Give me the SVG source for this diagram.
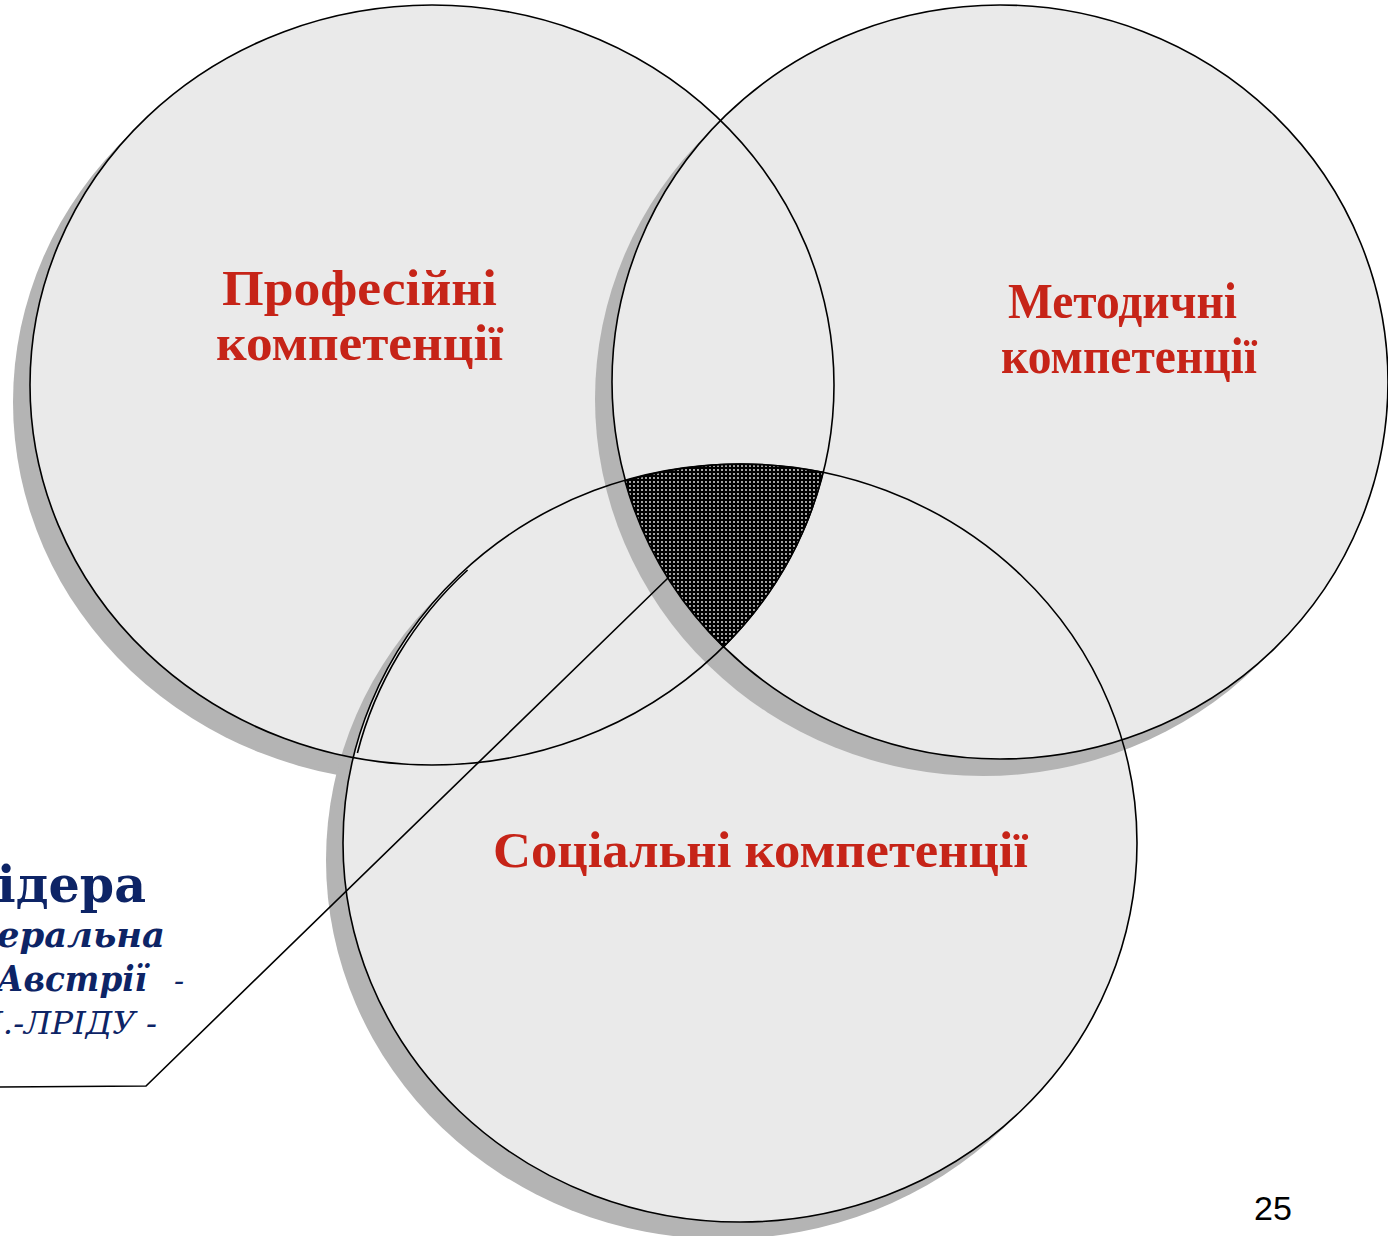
<svg xmlns="http://www.w3.org/2000/svg" width="1388" height="1236" viewBox="0 0 1388 1236">
<style>
.fill{fill:#eaeaea;stroke:none}
.shadow{fill:#b4b4b4;stroke:none}
.outline{fill:none;stroke:#000;stroke-width:1.6}
.red{font-family:"Liberation Serif","DejaVu Serif",serif;font-weight:bold;font-size:50px;fill:#c62418}
.navy{font-family:"DejaVu Serif","Liberation Serif",serif;fill:#0d2466}
.line{fill:none;stroke:#000;stroke-width:1.6}
</style>
<defs>
<pattern id="dots" width="4" height="4" patternUnits="userSpaceOnUse">
<rect width="4" height="4" fill="#000"/>
<circle cx="2" cy="2" r="0.9" fill="#f0f0f0"/>
</pattern>
</defs>
<rect width="1388" height="1236" fill="#fff"/>
<g id="node-professional-bg">
<ellipse class="shadow" cx="415" cy="402" rx="402" ry="380"/>
<ellipse class="fill" cx="432" cy="385" rx="402" ry="380"/>
</g>
<g id="node-social-bg">
<ellipse class="shadow" cx="723" cy="860" rx="397" ry="379"/>
<ellipse class="fill" cx="740" cy="843" rx="397" ry="379"/>
</g>
<g id="node-methodical-bg">
<ellipse class="shadow" cx="983" cy="399" rx="388" ry="377"/>
<ellipse class="fill" cx="1000" cy="382" rx="388" ry="377"/>
</g>
<g id="outlines">
<ellipse class="outline" cx="432" cy="385" rx="402" ry="380"/>
<ellipse class="outline" cx="740" cy="843" rx="397" ry="379"/>
<path class="outline" d="M357.4,753 A397 379 0 0 1 467.6,570"/>
<ellipse class="outline" cx="1000" cy="382" rx="388" ry="377"/>
</g>
<g id="node-intersection">
<path d="M625,481 A397 379 0 0 1 823,472.4 A402 380 0 0 1 723.5,647 A388 377 0 0 1 625,481 Z" fill="url(#dots)" stroke="#000" stroke-width="1.6"/>
</g>
<g id="connectors">
<polyline class="line" points="0,1087 146,1086 668,578"/>
</g>
<g id="node-professional">
<text class="red" x="222" y="305" textLength="275" lengthAdjust="spacingAndGlyphs">Професійні</text>
<text class="red" x="216" y="360" textLength="287" lengthAdjust="spacingAndGlyphs">компетенції</text>
</g>
<g id="node-methodical">
<text class="red" x="1008" y="318" textLength="229" lengthAdjust="spacingAndGlyphs">Методичні</text>
<text class="red" x="1001" y="373" textLength="256" lengthAdjust="spacingAndGlyphs">компетенції</text>
</g>
<g id="node-social">
<text class="red" x="493" y="867" textLength="535" lengthAdjust="spacingAndGlyphs">Соціальні компетенції</text>
</g>
<g id="node-callout">
<text class="navy" x="-3" y="902" font-size="50" font-weight="bold" textLength="149" lengthAdjust="spacingAndGlyphs">ідера</text>
<text class="navy" x="-3" y="947" font-size="36" font-weight="bold" font-style="italic" textLength="168" lengthAdjust="spacingAndGlyphs">еральна</text>
<text class="navy" x="-3" y="991" font-size="36" font-weight="bold" font-style="italic" textLength="150" lengthAdjust="spacingAndGlyphs">Австрії</text>
<text class="navy" x="174" y="991" font-size="30" font-style="italic">-</text>
<text class="navy" x="-10" y="1034" font-size="31" font-style="italic" textLength="167" lengthAdjust="spacingAndGlyphs">І.-ЛРІДУ -</text>
</g>
<text x="1254" y="1220" font-family="Liberation Sans, Arial, sans-serif" font-size="34" fill="#000">25</text>
</svg>
